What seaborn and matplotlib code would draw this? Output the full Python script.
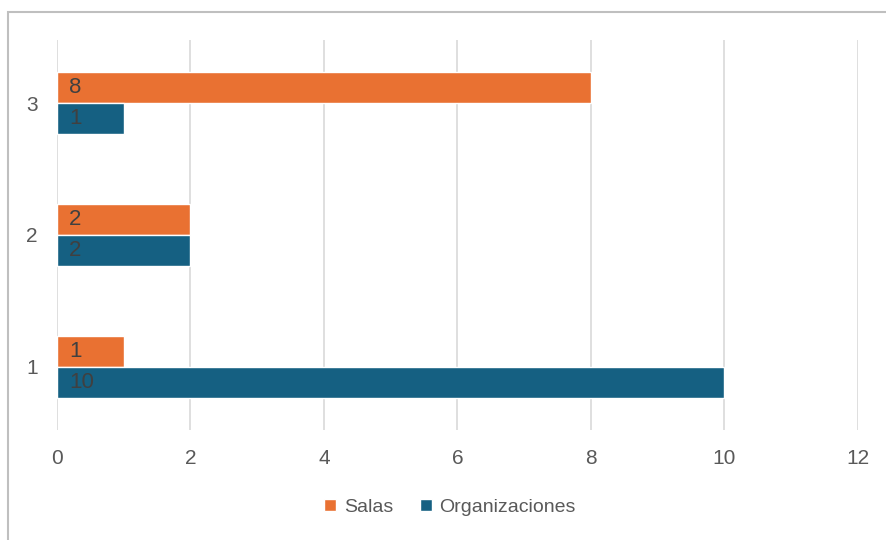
import pandas as pd
import seaborn as sns
import matplotlib.pyplot as plt
from matplotlib.patches import Rectangle

categorias = ["3", "2", "1"]
salas = [8, 2, 1]
organizaciones = [1, 2, 10]
series = ["Salas", "Organizaciones"]
colores = {"Salas": "#E97132", "Organizaciones": "#156082"}
ticks_x = [0, 2, 4, 6, 8, 10, 12]

df = pd.DataFrame({
    "categoria": categorias * 2,
    "serie": ["Salas"] * 3 + ["Organizaciones"] * 3,
    "valor": salas + organizaciones,
})

sns.set_style("white")
plt.rcParams["font.family"] = ["Liberation Sans", "DejaVu Sans"]

fig = plt.figure(figsize=(8.86, 5.4), dpi=100)
ax = fig.add_axes([0.0643, 0.2037, 0.9041, 0.7223])

sns.barplot(
    data=df, x="valor", y="categoria", hue="serie",
    order=categorias, hue_order=series, palette=colores,
    orient="h", width=0.47, saturation=1, ax=ax, legend=True,
)

# etiquetas de datos pegadas a la base de cada barra
for cont in ax.containers:
    for bar in cont:
        y = bar.get_y() + bar.get_height() / 2
        ax.text(0.18, y, f"{bar.get_width():g}", ha="left", va="center",
                fontsize=16, color="#404040")

ax.set_xlim(0, 12)
ax.set_ylim(2.48, -0.48)
ax.set_xticks(ticks_x)
ax.grid(axis="x", color="#D9D9D9", linewidth=1.2)
ax.set_axisbelow(True)
ax.tick_params(axis="both", length=0, labelsize=15, labelcolor="#595959")
ax.tick_params(axis="x", pad=14)
ax.tick_params(axis="y", pad=14)
for s in ax.spines.values():
    s.set_visible(False)
ax.set_xlabel("")
ax.set_ylabel("")

handles, labels = ax.get_legend_handles_labels()
ax.legend_.remove()
fig.legend(handles, labels, loc="center", bbox_to_anchor=(0.508, 0.061), ncol=2,
           frameon=False, fontsize=14, handlelength=0.6, handleheight=0.6,
           handletextpad=0.4, columnspacing=1.4, labelcolor="#595959")

# marco del gráfico (solo se ven los bordes superior e izquierdo)
fig.patches.append(Rectangle((0.009, -0.05), 1.2, 1.028, transform=fig.transFigure,
                             fill=False, edgecolor="#BFBFBF", linewidth=1.5))

fig.savefig("out.png", dpi=100)
